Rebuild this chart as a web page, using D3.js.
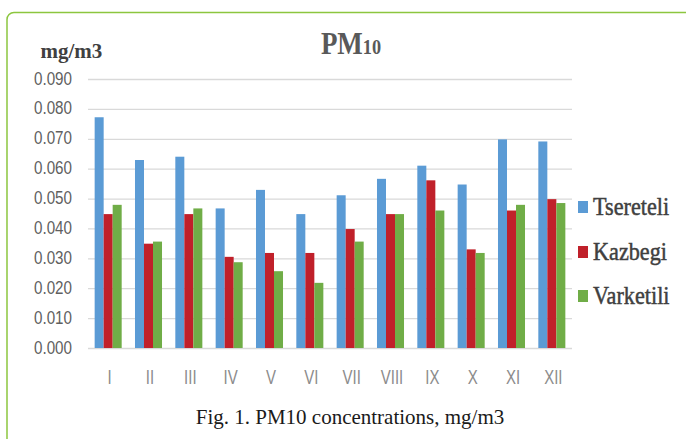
<!DOCTYPE html>
<html>
<head>
<meta charset="utf-8">
<script src="https://cdn.jsdelivr.net/npm/d3@7"></script>
<style>
  html, body { margin: 0; padding: 0; background: #fff; }
  svg { display: block; }
</style>
</head>
<body>
<svg id="chart" width="686" height="439"></svg>
<script>
// Monthly PM10 concentrations (mg/m3) at three Tbilisi stations
const months = ["I", "II", "III", "IV", "V", "VI", "VII", "VIII", "IX", "X", "XI", "XII"];
const stations = ["Tsereteli", "Kazbegi", "Varketili"];
const tsereteli = [0.0772, 0.0629, 0.0640, 0.0467, 0.0529, 0.0448, 0.0511, 0.0566, 0.0610, 0.0547, 0.0698, 0.0691];
const kazbegi   = [0.0448, 0.0349, 0.0448, 0.0305, 0.0318, 0.0318, 0.0398, 0.0448, 0.0561, 0.0330, 0.0460, 0.0498];
const varketili = [0.0479, 0.0356, 0.0467, 0.0287, 0.0257, 0.0218, 0.0356, 0.0448, 0.0460, 0.0318, 0.0479, 0.0485];
const yTicks = [0, 0.01, 0.02, 0.03, 0.04, 0.05, 0.06, 0.07, 0.08, 0.09];
const colors = ["#5b9bd5", "#c0202a", "#70ad47"];

const seriesValues = [tsereteli, kazbegi, varketili];
const rows = months.map((m, i) => ({ month: m, values: stations.map((s, j) => ({ key: s, value: seriesValues[j][i] })) }));

const svg = d3.select("#chart");
const plot = { left: 88, right: 572, top: 79, bottom: 348 };

// Frame around the figure
svg.append("rect")
  .attr("x", 7).attr("y", 12.5).attr("width", 700).attr("height", 460)
  .attr("rx", 7).attr("fill", "none")
  .attr("stroke", "#8cc63f").attr("stroke-width", 1.5);

const x0 = d3.scaleBand().domain(months).range([plot.left, plot.right]).paddingInner(0.33).paddingOuter(0.165);
const x1 = d3.scaleBand().domain(stations).range([0, x0.bandwidth()]);
const y = d3.scaleLinear().domain([0, 0.09]).range([plot.bottom, plot.top]);
const color = d3.scaleOrdinal().domain(stations).range(colors);

// Gridlines + y tick labels
const yAxis = svg.append("g")
  .attr("transform", `translate(${plot.left},0)`)
  .call(d3.axisLeft(y).tickValues(yTicks).tickSize(-(plot.right - plot.left)).tickFormat(d3.format(".3f")));
yAxis.select(".domain").remove();
yAxis.selectAll(".tick line").attr("stroke", "#d9d9d9").attr("stroke-width", 1.3);
yAxis.selectAll(".tick text")
  .attr("font-family", "'Liberation Sans', Arial, sans-serif")
  .attr("font-size", 19)
  .attr("fill", "#5f5f5f")
  .attr("x", -16 / 0.8)
  .attr("y", -1)
  .attr("transform", "scale(0.8,1)");

// Bars
svg.append("g").selectAll("g")
  .data(rows)
  .join("g")
  .attr("transform", d => `translate(${x0(d.month)},0)`)
  .selectAll("rect")
  .data(d => d.values)
  .join("rect")
  .attr("x", d => x1(d.key))
  .attr("width", x1.bandwidth())
  .attr("y", d => y(d.value))
  .attr("height", d => y(0) - y(d.value))
  .attr("fill", d => color(d.key));

// Month labels
const xAxis = svg.append("g")
  .attr("transform", `translate(0,${plot.bottom})`)
  .call(d3.axisBottom(x0).tickSize(0));
xAxis.select(".domain").remove();
xAxis.selectAll(".tick")
  .attr("transform", d => `translate(${x0(d) + x0.bandwidth() / 2 + 1.5},0)`);
xAxis.selectAll(".tick text")
  .attr("font-family", "'Liberation Sans', Arial, sans-serif")
  .attr("font-size", 20)
  .attr("fill", "#8c8c8c")
  .attr("x", 0)
  .attr("y", 22)
  .attr("dy", "0.71em")
  .attr("transform", "scale(0.75,1)");

// Title
const title = svg.append("text")
  .attr("transform", "translate(351,53.5) scale(0.87,1)")
  .attr("text-anchor", "middle")
  .attr("font-family", "'Liberation Serif', 'Times New Roman', serif")
  .attr("font-weight", "bold")
  .attr("fill", "#595959");
title.append("tspan").attr("font-size", 31).text("PM");
title.append("tspan").attr("font-size", 21).text("10");

// Unit label
svg.append("text")
  .attr("x", 40.5).attr("y", 58)
  .attr("font-family", "'Liberation Serif', 'Times New Roman', serif")
  .attr("font-weight", "bold")
  .attr("font-size", 21)
  .attr("fill", "#404040")
  .text("mg/m3");

// Legend
const legendY = [201, 246, 290];
const legend = svg.append("g").selectAll("g")
  .data(stations)
  .join("g")
  .attr("transform", (d, i) => `translate(578,${legendY[i]})`);
legend.append("rect")
  .attr("width", 10).attr("height", 12)
  .attr("fill", d => color(d));
legend.append("text")
  .attr("transform", "translate(15,14) scale(0.855,1)")
  .attr("font-family", "'Liberation Serif', 'Times New Roman', serif")
  .attr("font-size", 26)
  .attr("fill", "#404040")
  .attr("stroke", "#404040")
  .attr("stroke-width", 0.5)
  .text(d => d);

// Caption
svg.append("text")
  .attr("x", 350).attr("y", 423.5)
  .attr("text-anchor", "middle")
  .attr("font-family", "'Liberation Serif', 'Times New Roman', serif")
  .attr("font-size", 21)
  .attr("fill", "#1a1a1a")
  .text("Fig. 1. PM10 concentrations, mg/m3");
</script>
</body>
</html>
